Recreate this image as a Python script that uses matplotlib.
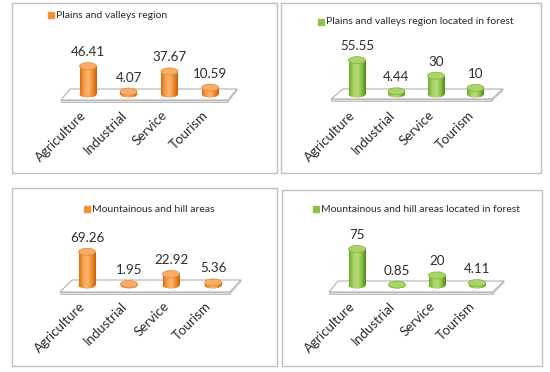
import matplotlib
matplotlib.use("Agg")
import matplotlib.pyplot as plt
import numpy as np
from matplotlib.patches import Ellipse, Polygon, Rectangle
from matplotlib.colors import LinearSegmentedColormap

plt.rcParams['font.family'] = ['Lato', 'DejaVu Sans']

categories = ["Agriculture", "Industrial", "Service", "Tourism"]
plains = [46.41, 4.07, 37.67, 10.59]
plains_forest = [55.55, 4.44, 30, 10]
mountain = [69.26, 1.95, 22.92, 5.36]
mountain_forest = [75, 0.85, 20, 4.11]
titles = ["Plains and valleys region",
          "Plains and valleys region located in forest",
          "Mountainous and hill areas",
          "Mountainous and hill areas located in forest"]

W, H = 550, 372
fig = plt.figure(figsize=(W / 100, H / 100), dpi=100)

orange = LinearSegmentedColormap.from_list(
    "orange", ["#d8700f", "#f7a050", "#fbb572", "#f28c2c", "#c4600b"])
green = LinearSegmentedColormap.from_list(
    "green", ["#6fa830", "#a5d262", "#b7dd7c", "#8bc345", "#4f861b"])

# pixel layout of each panel: box, first bar centre, bar spacing, base line, px per unit, floor
panels = [
    dict(values=plains, box=(12, 3, 277, 173), x0=88, dx=40.7, base=94, ppu=0.60,
         floor=(89, 70, 237, 100, 61, 228), leg=(51, 15), cmap=orange,
         mid="#f39235", top="#f9ad68", rim="#e08a35"),
    dict(values=plains_forest, box=(281, 3, 541, 173), x0=357, dx=39.5, base=94, ppu=0.61,
         floor=(89, 343, 503, 99, 331, 492), leg=(321, 22), cmap=green,
         mid="#8cc445", top="#a9d468", rim="#7fb33f"),
    dict(values=mountain, box=(12, 188, 277, 366), x0=87, dx=42, base=285, ppu=0.48,
         floor=(280, 72, 241, 292, 60, 230), leg=(87, 209), cmap=orange,
         mid="#f39235", top="#f9ad68", rim="#e08a35"),
    dict(values=mountain_forest, box=(282, 190, 542, 366), x0=357, dx=40, base=285, ppu=0.48,
         floor=(281, 338, 504, 292, 329, 493), leg=(316, 209), cmap=green,
         mid="#8cc445", top="#a9d468", rim="#7fb33f"),
]

grad = np.linspace(0, 1, 64).reshape(1, -1)
text_color = "#2b2b2b"

for p, title in zip(panels, titles):
    l, t, r, b = p["box"]
    ax = fig.add_axes([l / W, 1 - b / H, (r - l) / W, (b - t) / H])
    ax.axis("off")
    x0, dx, base, ppu = p["x0"], p["dx"], p["base"], p["ppu"]
    xlim = ((l - x0) / dx, (r - x0) / dx)
    ylim = ((base - b) / ppu, (base - t) / ppu)

    def px(xp, yp):
        return ((xp - x0) / dx, (base - yp) / ppu)

    ax.add_patch(Rectangle((0, 0), 1, 1, transform=ax.transAxes, fill=False,
                           edgecolor="#bfbfbf", lw=1.0, clip_on=False))

    # floor plane
    by, bl, br, fy, fl, fr = p["floor"]
    ax.add_patch(Polygon([px(bl, by), px(br, by), px(fr, fy), px(fl, fy)],
                         closed=True, facecolor="white", edgecolor="#b0b0b0", lw=0.8, zorder=1))
    ax.add_patch(Polygon([px(fl, fy), px(fr, fy), px(fr, fy + 1.5), px(fl, fy + 1.5)],
                         closed=True, facecolor="#dedede", edgecolor="#b0b0b0", lw=0.5, zorder=1))
    ax.add_patch(Polygon([px(fr, fy), px(br, by), px(br, by + 1.5), px(fr, fy + 1.5)],
                         closed=True, facecolor="#ececec", edgecolor="#b0b0b0", lw=0.5, zorder=1))

    xs = np.arange(len(categories))
    bw = 17 / dx
    eh = 7 / ppu
    bars = ax.bar(xs, p["values"], width=bw, color=p["mid"], zorder=3)
    for x, v, rect in zip(xs, p["values"], bars):
        bottom = Ellipse((x, 0), bw, eh, facecolor=p["mid"], edgecolor="none", zorder=2.9)
        ax.add_patch(bottom)
        for clip, z in ((rect, 3.1), (bottom, 3.0)):
            im = ax.imshow(grad, cmap=p["cmap"], aspect="auto", zorder=z,
                           extent=[x - bw / 2, x + bw / 2, -eh / 2, v], interpolation="bilinear")
            im.set_clip_path(clip)
        ax.add_patch(Ellipse((x, v), bw, eh, facecolor=p["top"], edgecolor=p["rim"],
                             lw=0.5, zorder=4))
        ax.annotate(f"{v:g}", (x, v), xytext=(0, 8), textcoords="offset pixels",
                    ha="center", va="bottom", fontsize=9.6, color=text_color)

    for x, cat in zip(xs, categories):
        ax.annotate(cat, (x, 0), xytext=(-4, -19), textcoords="offset pixels",
                    ha="right", va="center", rotation=45, rotation_mode="anchor",
                    fontsize=9.6, color=text_color)

    lx, ly = p["leg"]
    fx, fy_ = (lx - l) / (r - l), (b - ly) / (b - t)
    ax.plot([fx], [fy_], marker="s", ms=4.5, color=p["mid"], transform=ax.transAxes,
            clip_on=False)
    ax.text(fx + 5 / (r - l), fy_, title, transform=ax.transAxes, ha="left", va="center",
            fontsize=7.5, color=text_color)

    ax.set_xlim(*xlim)
    ax.set_ylim(*ylim)

fig.savefig("out.png", dpi=100, facecolor="white")
